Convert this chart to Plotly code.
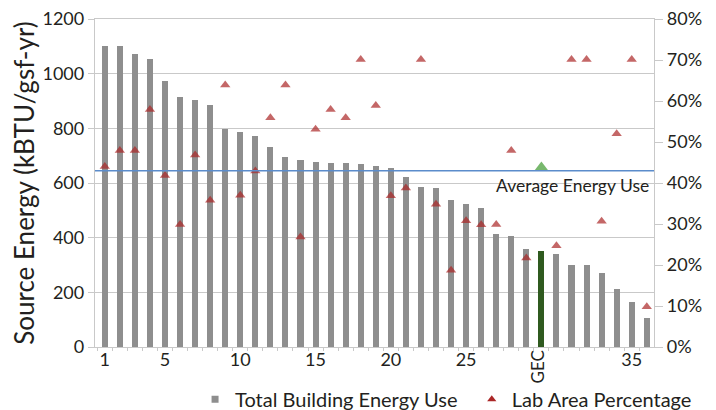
import plotly.graph_objects as go

# ---- data ----
BUILDING_LABELS = [str(i) for i in range(1, 30)] + ["GEC"] + [str(i) for i in range(30, 37)]
ENERGY = [1100, 1100, 1073, 1055, 975, 913, 903, 885, 799, 787, 771, 731, 696,
          685, 678, 672, 672, 669, 663, 654, 623, 587, 580, 536, 524, 508,
          413, 407, 360, 351, 339, 301, 299, 271, 213, 163, 105]
LAB_PCT = [44.0, 47.9, 47.9, 57.9, 41.8, 29.9, 46.8, 35.8, 63.9, 37.0, 42.9, 55.9, 63.9,
           26.8, 53.1, 57.9, 55.9, 70.1, 58.9, 36.9, 38.8, 70.1, 34.8, 18.7, 30.8, 29.8,
           29.9, 47.9, 21.7, 43.8, 24.7, 70.1, 70.1, 30.7, 52.0, 70.1, 9.8]
AVG_ENERGY = 645
TICK_POS = [1, 5, 10, 15, 20, 25, 30, 36]
TICK_TEXT = ["1", "5", "10", "15", "20", "25", "", "35"]
HIGHLIGHT = "GEC"

pos = list(range(1, len(BUILDING_LABELS) + 1))
gec_i = BUILDING_LABELS.index(HIGHLIGHT)
gec_x = pos[gec_i]

TXT = "#231f20"
GRID = "#c9c9c9"
FONT = "Lato"
RED = "#ab2727"

bar_colors = ["#2f5a1f" if b == HIGHLIGHT else "#8e8e8e" for b in BUILDING_LABELS]
tri_colors = ["#3f9a2f" if b == HIGHLIGHT else RED for b in BUILDING_LABELS]
tri_sizes = [12 if b == HIGHLIGHT else 9 for b in BUILDING_LABELS]

fig = go.Figure()
fig.add_trace(go.Bar(x=pos, y=ENERGY, marker=dict(color=bar_colors, line=dict(width=0)),
                     width=0.4, showlegend=False, name="Total Building Energy Use"))
fig.add_trace(go.Scatter(x=pos, y=LAB_PCT, yaxis="y2", mode="markers",
                         marker=dict(symbol="triangle-up", color=tri_colors, size=tri_sizes,
                                     line=dict(width=0)),
                         showlegend=False, name="Lab Area Percentage"))
# legend-only entries, each in its own legend so they stay on one line
fig.add_trace(go.Scatter(x=[None], y=[None], mode="markers", name="Total Building Energy Use",
                         marker=dict(symbol="square", color="#8e8e8e", size=7), legend="legend"))
fig.add_trace(go.Scatter(x=[None], y=[None], mode="markers", name="Lab Area Percentage",
                         marker=dict(symbol="triangle-up", color=RED, size=8), legend="legend2"))

fig.add_shape(type="line", xref="paper", x0=0, x1=1, yref="y", y0=AVG_ENERGY, y1=AVG_ENERGY,
              line=dict(color="#5b8ccb", width=1.5), layer="above")
fig.add_annotation(x=0.9955, xref="paper", y=AVG_ENERGY, yref="y", xanchor="right", yanchor="top",
                   yshift=-2, text="Average Energy Use", showarrow=False,
                   font=dict(family=FONT, size=17.5, color=TXT))
fig.add_annotation(x=gec_x, xref="x", y=-0.061, yref="paper", xshift=-4, textangle=-90,
                   text=HIGHLIGHT, showarrow=False, yanchor="middle",
                   font=dict(family=FONT, size=17, color=TXT))

leg_common = dict(orientation="h", yanchor="middle", y=-0.159, xanchor="left",
                  bgcolor="rgba(0,0,0,0)", font=dict(family=FONT, size=20, color=TXT),
                  itemsizing="trace", itemwidth=30)

fig.update_layout(
    width=716, height=410,
    margin=dict(l=87, r=70, t=11, b=71, autoexpand=False),
    paper_bgcolor="white", plot_bgcolor="white",
    font=dict(family=FONT, size=18, color=TXT),
    bargap=0,
    xaxis=dict(range=[0.35, 37.48], tickmode="array", tickvals=TICK_POS, ticktext=TICK_TEXT,
               ticks="", ticklen=0, showgrid=False, zeroline=False, showline=True, linecolor=GRID,
               linewidth=1.3, mirror=True, tickfont=dict(family=FONT, size=18, color=TXT),
               ticklabelstandoff=-4,
               minor=dict(tickmode="linear", tick0=0.5, dtick=1, ticks="outside",
                          ticklen=3, tickcolor=GRID, showgrid=False)),
    yaxis=dict(range=[0, 1200], dtick=200, showgrid=True, gridcolor=GRID, gridwidth=1.3,
               zeroline=False, showline=True, linecolor=GRID, linewidth=1.3,
               ticks="outside", ticklen=6, tickcolor=GRID, ticklabeloverflow="allow",
               tickfont=dict(family=FONT, size=18, color=TXT),
               title=dict(text="Source Energy (kBTU/gsf-yr)", standoff=11,
                          font=dict(family=FONT, size=26, color=TXT))),
    yaxis2=dict(range=[0, 80], dtick=10, ticksuffix="%", overlaying="y", side="right",
                showgrid=False, zeroline=False, showline=True, linecolor=GRID, linewidth=1.3,
                ticks="outside", ticklen=8, tickcolor=GRID, ticklabeloverflow="allow",
                tickfont=dict(family=FONT, size=18, color=TXT)),
    legend=dict(x=0.179, **leg_common),
    legend2=dict(x=0.674, **leg_common),
)

fig.write_html("out.html")
